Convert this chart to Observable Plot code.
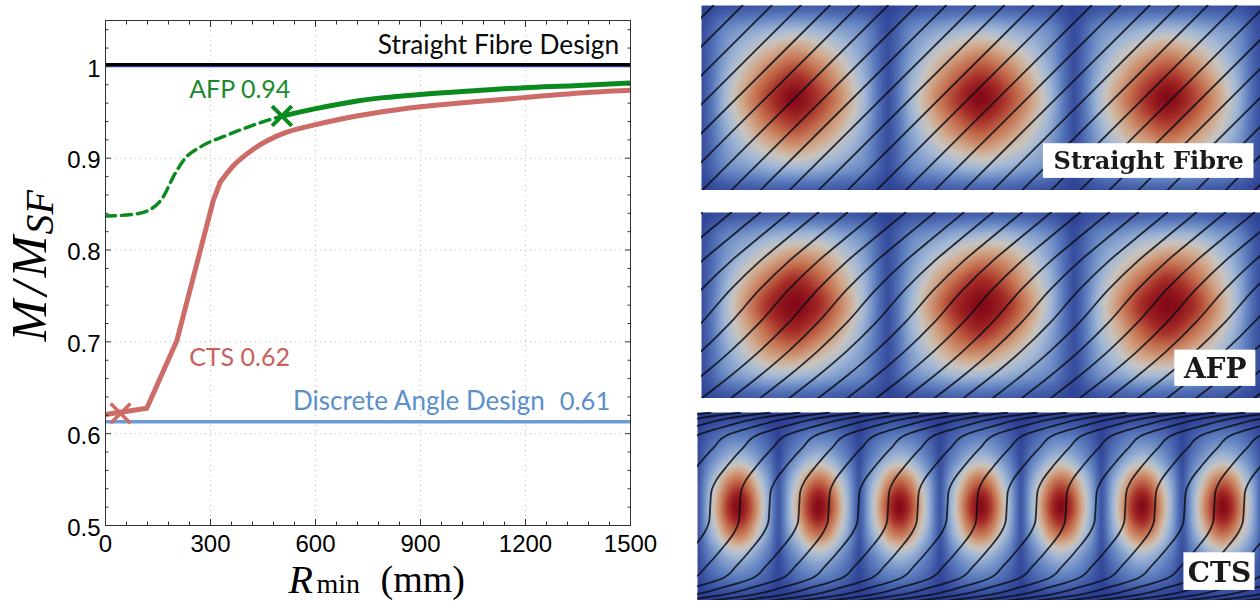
<!DOCTYPE html>
<html>
<head>
<meta charset="utf-8">
<script src="https://cdn.jsdelivr.net/npm/d3@7"></script>
<script src="https://cdn.jsdelivr.net/npm/@observablehq/plot@0.6"></script>
<style>
html,body{margin:0;padding:0;background:#fff;overflow:hidden}
#page{position:relative;width:1260px;height:601px;overflow:hidden}
#page svg{position:absolute;display:block;max-width:none;background:transparent}
#page svg.field{filter:blur(.55px)}
</style>
</head>
<body>
<div id="page"></div>
<script>
// ---- line chart data ----
const afpR = [0,80,127,165,194,227,270,347,422,504];
const afpM = [.837,.839,.844,.858,.880,.8997,.912,.925,.936,.946];
const afpSolidR = [504,594,670,728,795,900,1053,1195,1338,1500];
const afpSolidM = [.946,.9535,.959,.9628,.966,.9695,.9735,.9768,.979,.982];
const ctsLowR = [0,118,204,308,328];
const ctsLowM = [.6208,.6277,.7015,.854,.874];
const ctsHighR = [328,366,423,508,594,670,765,900,1053,1195,1338,1500];
const ctsHighM = [.874,.892,.91,.927,.936,.9425,.949,.956,.9615,.966,.9706,.974];
const straightDesign = 1.002, straightBlue = 1.0, discreteDesign = .6131;
const markerAFP = {R:504, M:.946}, markerCTS = {R:43, M:.6222};
const xMajor = [0,300,600,900,1200,1500];
const xMinor = [60,120,180,240,360,420,480,540,660,720,780,840,960,1020,1080,1140,1260,1320,1380,1440];
const yMajor = [.5,.6,.7,.8,.9,1];
const yMinor = [.52,.54,.56,.58,.62,.64,.66,.68,.72,.74,.76,.78,.82,.84,.86,.88,.92,.94,.96,.98,1.02,1.04];
const yLabels = new Map([[.5,"0.5"],[.6,"0.6"],[.7,"0.7"],[.8,"0.8"],[.9,"0.9"],[1,"1"]]);
const notes = [
  {t:"Straight Fibre Design", R:778, M:1.023, c:"#0a0a0a", s:26.3},
  {t:"AFP 0.94", R:239, M:.974, c:"#1c8a2c", s:25},
  {t:"CTS 0.62", R:239, M:.682, c:"#c9605c", s:25},
  {t:"Discrete Angle Design", R:536, M:.635, c:"#5b8fca", s:26},
  {t:"0.61", R:1298, M:.635, c:"#5b8fca", s:25.5}
];
const GREEN="#0b8a1e", PINK="#cd6b66", BLUE="#6a9bd2", NAVY="#1c3fae";

// ---- heat-map cell values, read by eye (rows top to bottom, columns left to right) ----
const straightCell = [
 [.02,.06,.08,.10,.10,.10,.08,.06,.02],
 [.05,.24,.31,.37,.40,.37,.31,.24,.05],
 [.06,.30,.46,.58,.66,.58,.46,.30,.06],
 [.06,.36,.58,.76,.86,.76,.58,.36,.06],
 [.06,.40,.66,.86,1.0,.86,.66,.40,.06],
 [.06,.36,.58,.76,.86,.76,.58,.36,.06],
 [.06,.30,.46,.58,.66,.58,.46,.30,.06],
 [.05,.24,.31,.37,.40,.37,.31,.24,.05],
 [.02,.06,.08,.10,.10,.10,.08,.06,.02]];
const afpCell = [
 [.02,.06,.08,.10,.11,.11,.09,.06,.02],
 [.05,.23,.30,.37,.41,.41,.34,.25,.05],
 [.06,.29,.45,.58,.68,.64,.50,.32,.06],
 [.06,.35,.59,.78,.90,.80,.60,.38,.06],
 [.06,.40,.68,.90,1.0,.90,.68,.40,.06],
 [.06,.38,.60,.80,.90,.78,.59,.35,.06],
 [.06,.32,.50,.64,.68,.58,.45,.29,.06],
 [.05,.25,.34,.41,.41,.37,.30,.23,.05],
 [.02,.06,.09,.11,.11,.10,.08,.06,.02]];
const ctsCell = [
 [.00,.00,.00,.01,.01,.01,.00,.00,.00],
 [.03,.10,.16,.20,.21,.20,.16,.10,.03],
 [.05,.20,.31,.40,.44,.40,.31,.20,.05],
 [.08,.32,.51,.70,.78,.70,.51,.32,.08],
 [.08,.36,.62,.86,1.0,.86,.62,.36,.08],
 [.08,.32,.51,.70,.78,.70,.51,.32,.08],
 [.05,.20,.31,.40,.44,.40,.31,.20,.05],
 [.03,.10,.16,.20,.21,.20,.16,.10,.03],
 [.00,.00,.00,.01,.01,.01,.00,.00,.00]];
const fieldStops = [0,.22,.40,.50,.60,.74,.88,1];
const fieldColors = ["#2a3c92","#5f80c0","#a3b8d6","#c8c4bf","#d1a78a","#c46f4e","#a52c27","#850a18"];

// ---- fibre paths: offset along x, template x(y) ----
const straightY = [1,0];
const straightX = [0,1];
const afpY = [1,.878,.744,.591,.412,.26,.129,0];
const afpX = [0,.1565,.313,.469,.626,.783,.939,1.095];
const ctsY = [1,.991,.968,.929,.88,.814,.717,.637,.575,.5,.425,.363,.283,.186,.12,.071,.032,.009,0];
const ctsX = [-1.84,-1.68,-1.31,-.945,-.578,-.41,-.21,-.07,-.012,0,.012,.07,.21,.41,.578,.945,1.31,1.68,1.84];
const straightOffsets = [-1.092,-.936,-.78,-.624,-.468,-.312,-.156,0,.156,.312,.468,.624,.78,.936,1.092,1.248,1.404,1.56,1.716,1.872,2.028,2.184,2.34,2.496,2.652,2.808,2.964];
const ctsOffsets = [-2.412,-2.045,-1.678,-1.311,-.944,-.577,-.21,.157,.524,.891,1.258,1.625,1.992,2.359,2.726,3.093,3.46,3.827,4.194,4.561,4.928,5.295,5.662,6.029,6.396,6.763,7.13,7.497,7.864,8.231,8.598,8.965];

const panels = [
 {cell:straightCell, n:3, left:701, top:4.5, w:559, h:185.5, fy:straightY, fx:straightX, off:straightOffsets,
  label:"Straight Fibre", box:[1.835,2.965,.745,.932], tx:2.4, ty:.84, size:24},
 {cell:afpCell, n:3, left:701, top:211.7, w:559, h:186, fy:afpY, fx:afpX, off:straightOffsets,
  label:"AFP", box:[2.54,2.975,.74,.935], tx:2.757, ty:.84, size:28},
 {cell:ctsCell, n:7, left:697.3, top:411.7, w:565.6, h:188.3, fy:ctsY, fx:ctsX, off:ctsOffsets,
  label:"CTS", box:[6.02,6.9,.745,.945], tx:6.46, ty:.85, size:28}
];

// ---- drawing ----
const page = document.getElementById("page");
const tickFont = {fontFamily:"Liberation Sans", fontSize:24, fill:"#000"};
function place(svg,left,top,cls){ svg.style.left=left+"px"; svg.style.top=top+"px"; if(cls) svg.classList.add(cls); page.appendChild(svg); }
const mathFont = {fontFamily:"Liberation Serif", fontStyle:"italic", textAnchor:"start", lineAnchor:"middle", frameAnchor:"top-left", fill:"#000"};
const titleUpright = {fontFamily:"Liberation Serif", textAnchor:"start", lineAnchor:"middle", frameAnchor:"top-left", fill:"#000"};
const AX = {stroke:"#333", text:null, label:null};

const chart = Plot.plot({
  width:690, height:601, marginLeft:105, marginRight:60, marginTop:20, marginBottom:76,
  style:{background:"transparent", color:"#000", overflow:"visible"},
  x:{domain:[0,1500]}, y:{domain:[.5,1.05]},
  marks:[
    Plot.gridX(xMajor,{stroke:"#aaa",strokeOpacity:.8,strokeDasharray:"1,4"}),
    Plot.gridY(yMajor,{stroke:"#aaa",strokeOpacity:.8,strokeDasharray:"1,4"}),
    Plot.ruleY([discreteDesign],{stroke:BLUE,strokeWidth:3.5}),
    Plot.ruleY([straightBlue],{stroke:NAVY,strokeWidth:1.6}),
    Plot.ruleY([straightDesign],{stroke:"#000",strokeWidth:3}),
    Plot.line(ctsLowR.map((R,i)=>({R,M:ctsLowM[i]})),{x:"R",y:"M",stroke:PINK,strokeWidth:5,clip:true}),
    Plot.line(ctsHighR.map((R,i)=>({R,M:ctsHighM[i]})),{x:"R",y:"M",stroke:PINK,strokeWidth:5,curve:"monotone-x",clip:true}),
    Plot.line(afpR.map((R,i)=>({R,M:afpM[i]})),{x:"R",y:"M",stroke:GREEN,strokeWidth:3.5,strokeDasharray:"10,6",curve:"monotone-x",clip:true}),
    Plot.line(afpSolidR.map((R,i)=>({R,M:afpSolidM[i]})),{x:"R",y:"M",stroke:GREEN,strokeWidth:5,curve:"monotone-x",clip:true}),
    Plot.dot([markerAFP],{x:"R",y:"M",symbol:"times",r:9,stroke:GREEN,strokeWidth:4}),
    Plot.dot([markerCTS],{x:"R",y:"M",symbol:"times",r:9,stroke:PINK,strokeWidth:3.5}),
    Plot.frame({stroke:"#333",strokeWidth:1}),
    Plot.axisX(xMajor,{anchor:"bottom",tickSize:-6,...AX}),
    Plot.axisX(xMinor,{anchor:"bottom",tickSize:-3.5,...AX}),
    Plot.axisX(xMajor,{anchor:"top",tickSize:-6,...AX}),
    Plot.axisX(xMinor,{anchor:"top",tickSize:-3.5,...AX}),
    Plot.axisY(yMajor,{anchor:"left",tickSize:-6,...AX}),
    Plot.axisY(yMinor,{anchor:"left",tickSize:-3.5,...AX}),
    Plot.axisY(yMajor,{anchor:"right",tickSize:-6,...AX}),
    Plot.axisY(yMinor,{anchor:"right",tickSize:-3.5,...AX}),
    Plot.axisX(xMajor,{anchor:"bottom",tickSize:0,tickPadding:9,tickFormat:d=>String(d),label:null,...tickFont}),
    Plot.axisY(yMajor,{anchor:"left",tickSize:0,tickPadding:5,dy:2.5,tickFormat:d=>yLabels.get(d),label:null,...tickFont}),
    Plot.text(notes,{x:"R",y:"M",text:"t",fill:"c",fontSize:"s",textAnchor:"start",lineAnchor:"middle",fontFamily:"Lato"}),
    // axis titles, pieced together for the math subscripts
    Plot.text(["M"],{...mathFont,dx:-76,dy:321,rotate:-90,fontSize:50}),
    Plot.text(["/"],{...mathFont,dx:-76,dy:275,rotate:-90,fontSize:50}),
    Plot.text(["M"],{...mathFont,dx:-76,dy:257,rotate:-90,fontSize:50}),
    Plot.text(["SF"],{...mathFont,dx:-65,dy:214,rotate:-90,fontSize:40}),
    Plot.text(["R"],{...mathFont,dx:183,dy:559.5,fontSize:40}),
    Plot.text(["min"],{...titleUpright,dx:211,dy:564,fontSize:28}),
    Plot.text(["(mm)"],{...titleUpright,dx:275,dy:559,fontSize:38})
  ]
});
place(chart,0,0);

// smooth (Catmull-Rom) reading of a cell table
function cr(a,b,c,d,t){return .5*((2*b)+(c-a)*t+(2*a-5*b+4*c-d)*t*t+(3*b-a-3*c+d)*t*t*t);}
function sample(T,u,v){
  const n=T.length-1, px=u*n, py=v*n, ix=Math.min(n-1,Math.floor(px)), iy=Math.min(n-1,Math.floor(py));
  const tx=px-ix, ty=py-iy, R=i=>T[Math.max(0,Math.min(n,i))];
  const row=r=>cr(r[Math.max(0,ix-1)],r[ix],r[ix+1],r[Math.min(n,ix+2)],tx);
  return cr(row(R(iy-1)),row(R(iy)),row(R(iy+1)),row(R(iy+2)),ty);
}

for (const p of panels){
  const paths = p.off.flatMap((o,k)=>p.fy.map((y,i)=>({k,x:o+p.fx[i],y})));
  const svg = Plot.plot({
    width:p.w, height:p.h, margin:0,
    style:{background:"transparent"},
    x:{domain:[0,p.n],axis:null}, y:{domain:[0,1],reverse:true,axis:null},
    color:{type:"linear",domain:fieldStops,range:fieldColors,clamp:true},
    marks:[
      Plot.raster({x1:0,x2:p.n,y1:0,y2:1,pixelSize:1,
        fill:(x,y)=>sample(p.cell,x-Math.floor(x),Math.min(.9999,Math.max(0,y)))}),
      Plot.line(paths,{x:"x",y:"y",z:"k",stroke:"#0b0f18",strokeOpacity:.85,strokeWidth:1.8,curve:"monotone-y",clip:true}),
      Plot.rect([p.box],{x1:d=>d[0],x2:d=>d[1],y1:d=>d[2],y2:d=>d[3],fill:"#fff"}),
      Plot.text([p.label],{x:()=>p.tx,y:()=>p.ty,fontFamily:"DejaVu Serif",fontWeight:"bold",fontSize:p.size,fill:"#1a1a1a"})
    ]
  });
  place(svg,p.left,p.top,"field");
}
</script>
</body>
</html>
